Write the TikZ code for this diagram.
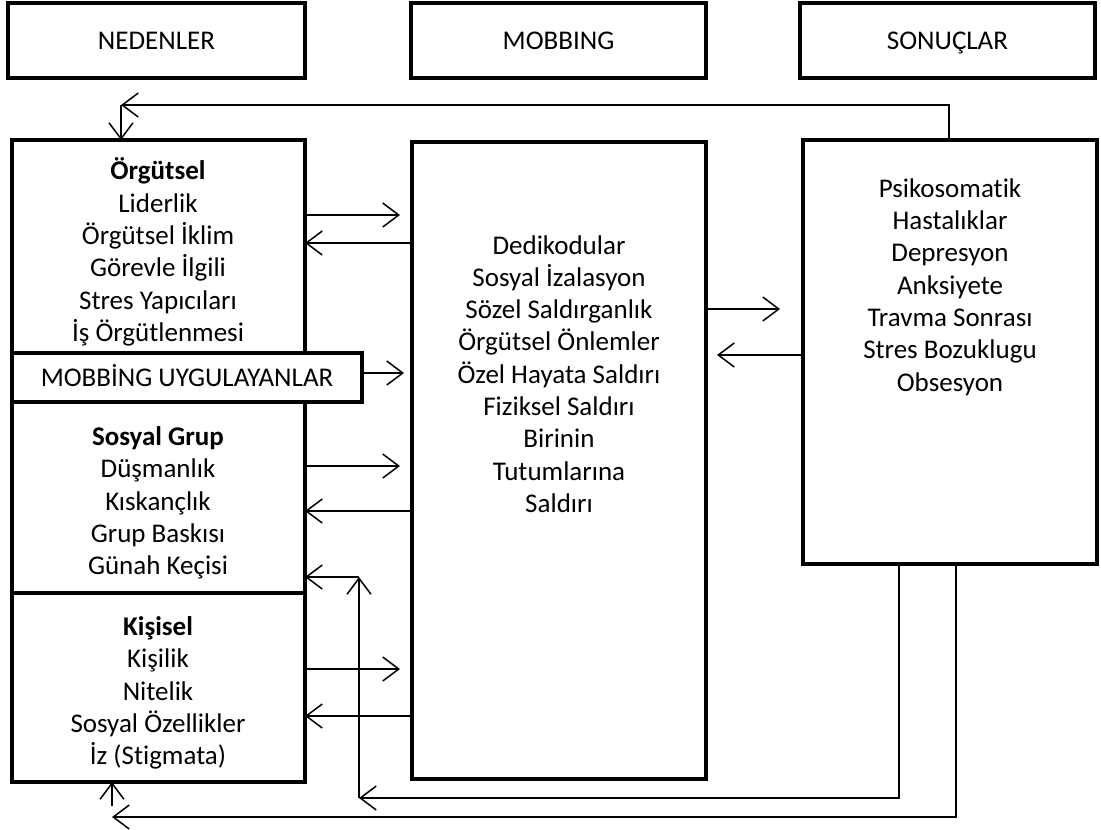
\documentclass[tikz,border=0pt]{standalone}
\usepackage{fontspec}
\setmainfont{Carlito}[Ligatures=NoCommon]
\usetikzlibrary{arrows.meta}
\begin{document}
\begin{tikzpicture}[x=1pt,y=-1pt,
  bx/.style={draw, line width=4.5pt, inner sep=0pt, outer sep=0pt, anchor=north west,
    text height=17pt, text depth=0pt, font=\fontsize{27}{32.3}\selectfont},
  txt/.style={align=center, inner sep=0pt, font=\fontsize{27}{32.3}\selectfont},
  arr/.style={line width=1.5pt, -{Straight Barb[length=16pt,width=24pt,line width=1.5pt]}},
  ln/.style={line width=1.5pt}]
\useasboundingbox (0,0) rectangle (1101,830);
% header boxes
\node[bx, minimum width=297pt, minimum height=75pt] (hN) at (8,3) {NEDENLER};
\node[bx, minimum width=295pt, minimum height=75pt] (hM) at (411,3) {MOBBING};
\node[bx, minimum width=295pt, minimum height=75pt] (hS) at (800,3) {SONUÇLAR};
% left column
\node[bx, minimum width=293pt, minimum height=213pt] (org) at (12,140) {};
\node[bx, minimum width=293pt, minimum height=191pt] (sos) at (12,402) {};
\node[bx, minimum width=293pt, minimum height=189pt] (kis) at (12,593) {};
\node[bx, minimum width=350pt, minimum height=49pt, fill=white] (mob) at (12,353) {MOBBİNG UYGULAYANLAR};
% middle and right
\node[bx, minimum width=294pt, minimum height=637pt] (mid) at (412,142) {};
\node[bx, minimum width=294pt, minimum height=424pt] (res) at (803,140) {};
% texts
\node[txt] (orgT) at (158,252) {\textbf{Örgütsel}\\Liderlik\\Örgütsel İklim\\Görevle İlgili\\Stres Yapıcıları\\İş Örgütlenmesi};
\node[txt] (sosT) at (158,503) {\textbf{Sosyal Grup}\\Düşmanlık\\Kıskançlık\\Grup Baskısı\\Günah Keçisi};
\node[txt] (kisT) at (158,693) {\textbf{Kişisel}\\Kişilik\\Nitelik\\Sosyal Özellikler\\İz (Stigmata)};
\node[txt] (midT) at (559,374) {Dedikodular\\Sosyal İzalasyon\\Sözel Saldırganlık\\Örgütsel Önlemler\\Özel Hayata Saldırı\\Fiziksel Saldırı\\Birinin\\Tutumlarına\\Saldırı};
\node[txt] (resT) at (950,287) {Psikosomatik\\Hastalıklar\\Depresyon\\Anksiyete\\Travma Sonrası\\Stres Bozuklugu\\Obsesyon};
% left <-> middle arrows
\draw[arr, shorten >=12pt] (org.east |- 0,215) -- (mid.west |- 0,215);
\draw[arr] (mid.west |- 0,243) -- (org.east |- 0,243);
\draw[arr, shorten >=8pt] (mob.east |- 0,373) -- (mid.west |- 0,373);
\draw[arr, shorten >=12pt] (sos.east |- 0,466) -- (mid.west |- 0,466);
\draw[arr] (mid.west |- 0,511) -- (sos.east |- 0,511);
\draw[arr, shorten >=12pt] (kis.east |- 0,669) -- (mid.west |- 0,669);
\draw[arr] (mid.west |- 0,716) -- (kis.east |- 0,716);
% middle <-> right arrows
\draw[arr, shorten >=23pt] (mid.east |- 0,309) -- (res.west |- 0,309);
\draw[arr, shorten >=11pt] (res.west |- 0,355) -- (mid.east |- 0,355);
% top feedback
\coordinate (tc) at (121,105);
\draw[arr] (res.north -| 949,0) -- (949,105) -- (tc);
\draw[arr] (tc) -- (org.north -| tc);
% bottom feedback 1
\coordinate (b1) at (359,798);
\coordinate (b1t) at (359,577);
\draw[arr] (res.south -| 899,0) -- (899,798) -- (b1);
\draw[arr] (b1) -- (b1t);
\draw[arr] (b1t) -- (sos.east |- b1t);
% bottom feedback 2
\coordinate (b2) at (112,817);
\coordinate (b2u) at (112,806);
\draw[arr] (res.south -| 956,0) -- (956,817) -- (b2);
\draw[arr] (b2u) -- (kis.south -| b2u);
\end{tikzpicture}
\end{document}
